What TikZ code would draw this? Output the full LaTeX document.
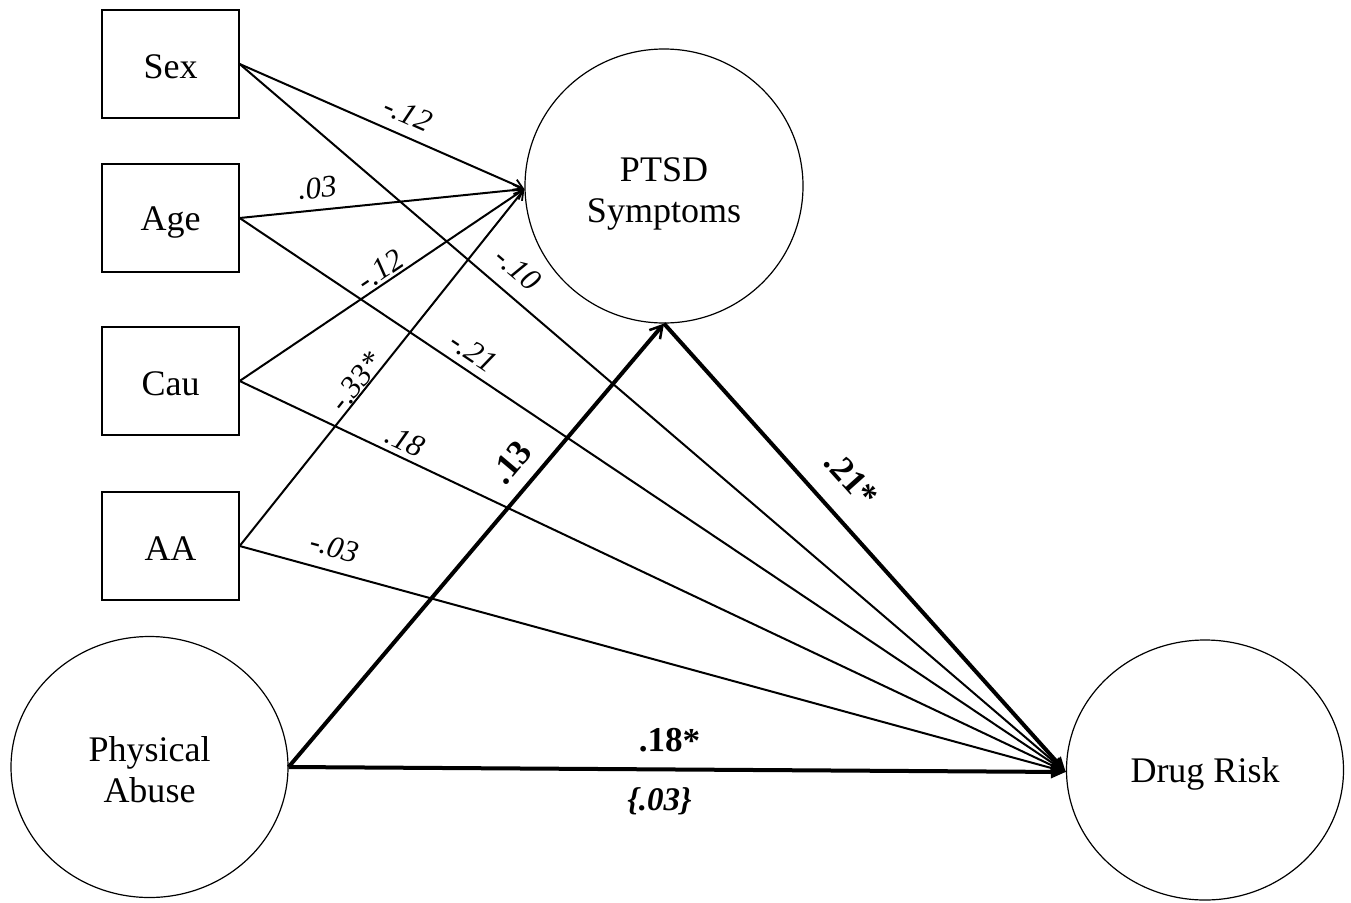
\documentclass[tikz,border=0pt]{standalone}
\usepackage{fontspec}
\setmainfont{Liberation Serif}
\usetikzlibrary{arrows.meta,shapes.geometric}
\begin{document}
\begin{tikzpicture}[x=1pt,y=-1pt,
  box/.style={draw, line width=1.3pt, minimum width=137pt, minimum height=108pt, inner sep=0pt},
  latent/.style={draw, ellipse, line width=1.2pt, inner sep=0pt},
  txt/.style={inner sep=0pt, align=center, font=\fontsize{36}{41}\selectfont},
  thin/.style={line width=2pt},
  thick/.style={line width=4pt},
  tobarb/.style={-{Straight Barb[length=9pt,width=11pt,line width=1.8pt]}},
  totri/.style={-{Triangle[length=15pt,width=12pt]}},
  coef/.style={sloped, inner sep=0pt, font=\fontsize{31}{36}\selectfont\itshape},
  bcoef/.style={sloped, inner sep=0pt, font=\fontsize{35}{40}\selectfont\bfseries}
]
\useasboundingbox (0,0) rectangle (1351,902);

\node[box, label={[txt, name=sext, yshift=-3pt]center:Sex}] (sex) at (170.5,64) {};
\node[box, label={[txt, name=aget, yshift=-4pt]center:Age}] (age) at (170.5,218) {};
\node[box, label={[txt, name=caut, yshift=-3pt]center:Cau}] (cau) at (170.5,381) {};
\node[box, label={[txt, name=aat, yshift=-3pt]center:AA}] (aa) at (170.5,546) {};

\node[latent, minimum width=278pt, minimum height=274pt,
  label={[txt, name=ptsdt, yshift=-8pt]center:PTSD\\Symptoms}] (ptsd) at (664,186) {};
\node[latent, minimum width=277pt, minimum height=261pt,
  label={[txt, name=pat, yshift=-3pt]center:Physical\\Abuse}] (pa) at (149.5,767) {};
\node[latent, minimum width=277pt, minimum height=260pt,
  label={[txt, name=drt, yshift=-4pt]center:Drug Risk}] (dr) at (1205,770) {};

% paths to PTSD
\draw[thin, tobarb] (sex.east) -- node[coef, pos=0.56, above=10.5pt] {-.12} ([yshift=-3pt]ptsd.west);
\draw[thin, tobarb] (age.east) -- node[coef, pos=0.28, above=10.5pt] {.03} ([yshift=-3pt]ptsd.west);
\draw[thin, tobarb] (cau.east) -- node[coef, pos=0.52, above=2pt] {-.12} ([yshift=-3pt]ptsd.west);
\draw[thin, tobarb] (aa.east) -- node[coef, pos=0.44, above=0pt] {-.33*} ([yshift=-3pt]ptsd.west);

% paths to Drug Risk
\draw[thin, totri] (sex.east) -- node[coef, pos=0.317, above=14pt] {-.10} ([yshift=-2pt]dr.west);
\draw[thin, totri] (age.east) -- node[coef, pos=0.27, above=7.5pt] {-.21} ([yshift=-2pt]dr.west);
\draw[thin, totri] (cau.east) -- node[coef, pos=0.192, above=5pt] {.18} ([yshift=-2pt]dr.west);
\draw[thin, totri] (aa.east) -- node[coef, pos=0.107, above=12.5pt] {-.03} ([yshift=-2pt]dr.west);

% structural paths
\draw[thick, -{Straight Barb[length=12pt,width=14pt,line width=2.5pt]}] (pa.east) -- node[bcoef, pos=0.648, above=13.5pt] {.13} (ptsd.south);
\draw[thick, totri] (ptsd.south) -- node[bcoef, pos=0.4, above=22pt] {.21*} ([yshift=-2pt]dr.west);
\draw[thick, totri] (pa.east) -- node[bcoef, pos=0.49, above=15pt] {.18*}
  node[pos=0.477, below=16pt, inner sep=0pt, font=\fontsize{33}{38}\selectfont\bfseries\itshape] {\{.03\}} ([yshift=-2pt]dr.west);
\end{tikzpicture}
\end{document}
